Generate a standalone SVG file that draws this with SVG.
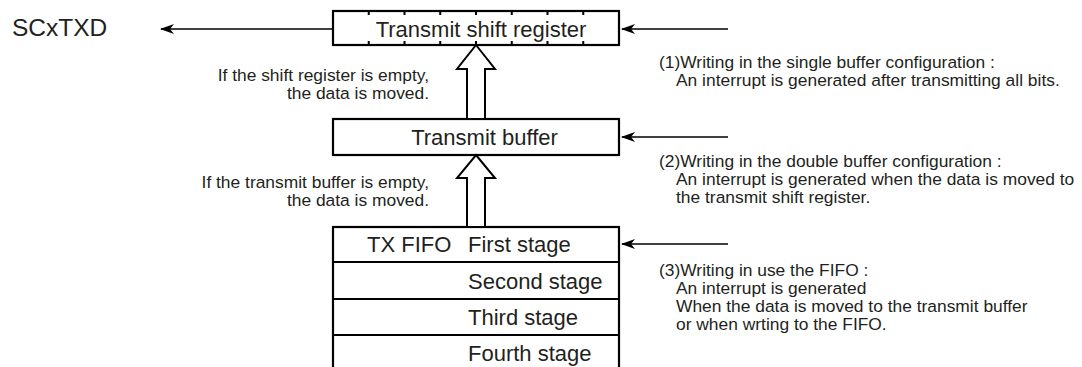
<svg xmlns="http://www.w3.org/2000/svg" width="1082" height="367" viewBox="0 0 1082 367">
<style>
.box{fill:#fff;stroke:#000;stroke-width:2.2}
.big{font-family:"Liberation Sans",Arial,sans-serif;font-size:22px;fill:#231f20}
.sm{font-family:"Liberation Sans",Arial,sans-serif;font-size:17.4px;fill:#231f20}
.conn{stroke:#000;stroke-width:1.6;fill:none}
.hollow{fill:#fff;stroke:#000;stroke-width:2;stroke-linejoin:miter}
.tick{stroke:#000;stroke-width:2}
</style>
<defs>
<marker id="ah" viewBox="0 0 14 10" refX="13" refY="5" markerWidth="14" markerHeight="10" markerUnits="userSpaceOnUse" orient="auto">
<path d="M0,0 L14,5 L0,10 L4,5 Z" fill="#000"/>
</marker>
</defs>
<rect width="1082" height="367" fill="#fff"/>
<g id="scxtxd"><text class="big" x="12" y="36" style="font-size:24.5px">SCxTXD</text></g>
<g id="shift-register">
<rect class="box" x="333" y="11" width="286" height="34"/>
<path class="tick" d="M368.75,11v4M404.5,11v4M440.25,11v4M476,11v4M511.75,11v4M547.5,11v4M583.25,11v4M368.75,45v-4M404.5,45v-4M440.25,45v-4M476,45v-4M511.75,45v-4M547.5,45v-4M583.25,45v-4"/>
<text class="big" x="481" y="37" text-anchor="middle">Transmit shift register</text>
</g>
<g id="transmit-buffer">
<rect class="box" x="333" y="119" width="286" height="36"/>
<text class="big" x="484.5" y="145" text-anchor="middle">Transmit buffer</text>
</g>
<g id="tx-fifo">
<rect class="box" x="333" y="227" width="286" height="160"/>
<path class="conn" style="stroke-width:2.2" d="M333,262H619M333,299H619M333,335H619"/>
<text class="big" x="367" y="252">TX FIFO</text>
<text class="big" x="468" y="252">First stage</text>
<text class="big" x="468" y="289">Second stage</text>
<text class="big" x="468" y="325">Third stage</text>
<text class="big" x="468" y="361">Fourth stage</text>
</g>
<g id="connectors">
<line class="conn" x1="333" y1="29" x2="161" y2="29" marker-end="url(#ah)"/>
<line class="conn" x1="728" y1="29" x2="622" y2="29" marker-end="url(#ah)"/>
<line class="conn" x1="728" y1="137" x2="622" y2="137" marker-end="url(#ah)"/>
<line class="conn" x1="728" y1="244" x2="622" y2="244" marker-end="url(#ah)"/>
<polygon class="hollow" points="476,45 495,69 485,69 485,119 467,119 467,69 457,69"/>
<polygon class="hollow" points="476,155 495,178 485,178 485,227 467,227 467,178 457,178"/>
</g>
<g id="note-left-1">
<text class="sm" x="429" y="81" text-anchor="end">If the shift register is empty,</text>
<text class="sm" x="429" y="99" text-anchor="end">the data is moved.</text>
</g>
<g id="note-left-2">
<text class="sm" x="429" y="188" text-anchor="end">If the transmit buffer is empty,</text>
<text class="sm" x="429" y="206" text-anchor="end">the data is moved.</text>
</g>
<g id="note-1">
<text class="sm" x="659" y="68">(1)Writing in the single buffer configuration :</text>
<text class="sm" x="676" y="86">An interrupt is generated after transmitting all bits.</text>
</g>
<g id="note-2">
<text class="sm" x="659" y="167">(2)Writing in the double buffer configuration :</text>
<text class="sm" x="676" y="185">An interrupt is generated when the data is moved to</text>
<text class="sm" x="676" y="203">the transmit shift register.</text>
</g>
<g id="note-3">
<text class="sm" x="659" y="276">(3)Writing in use the FIFO :</text>
<text class="sm" x="676" y="294">An interrupt is generated</text>
<text class="sm" x="676" y="312">When the data is moved to the transmit buffer</text>
<text class="sm" x="676" y="330">or when wrting to the FIFO.</text>
</g>
</svg>
